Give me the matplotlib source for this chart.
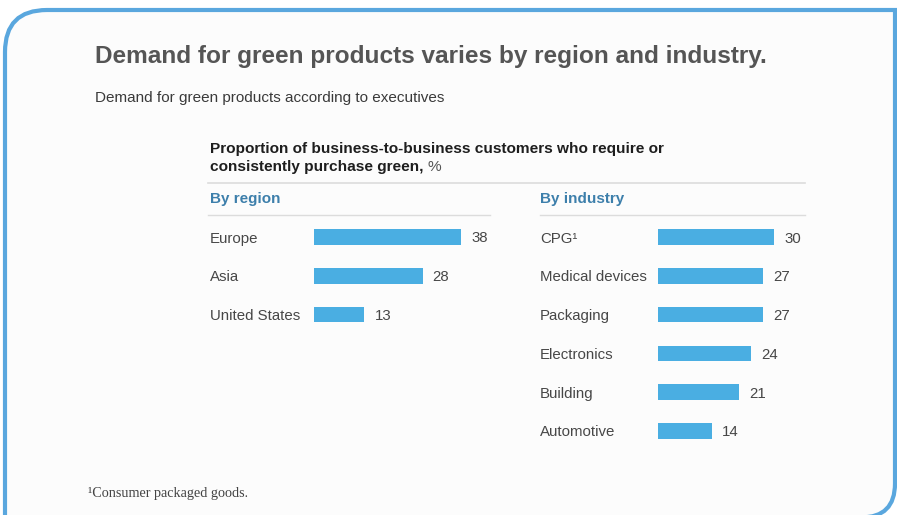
import matplotlib.pyplot as plt
from matplotlib.path import Path
from matplotlib.patches import PathPatch

plt.rcParams['font.family'] = ['Liberation Sans', 'DejaVu Sans']

# Share of B2B customers who require or consistently purchase green, %
regions = ["Europe", "Asia", "United States"]
region_values = [38, 28, 13]

industries = ["CPG\u00b9", "Medical devices", "Packaging", "Electronics", "Building", "Automotive"]
industry_values = [30, 27, 27, 24, 21, 14]

W, H = 897, 515
BAR_COLOR = "#4aaee2"
HEAD_BLUE = "#3d7fab"
TEXT_GRAY = "#474747"
LABEL_SIZE = 10.8
PX_PER_UNIT = 3.88   # bar length scale, pixels per percentage point
ROW_PX = 38.8        # row spacing in pixels

fig = plt.figure(figsize=(W / 100, H / 100), dpi=100)
fig.patch.set_facecolor("white")

# full-figure canvas in pixel coordinates for the frame and text
bg = fig.add_axes([0, 0, 1, 1])
bg.set_xlim(0, W)
bg.set_ylim(H, 0)
bg.axis("off")

# rounded frame: top-left and bottom-right corners rounded
r1, r2 = 42, 34
L, T, R, B = 5, 10, 895, 517.5
verts = [(L, H + 5), (L, T + r1), (L, T), (L + r1, T), (R, T), (R, B - r2),
         (R, B), (R - r2, B), (L - 10, B)]
codes = [Path.MOVETO, Path.LINETO, Path.CURVE3, Path.CURVE3, Path.LINETO,
         Path.LINETO, Path.CURVE3, Path.CURVE3, Path.LINETO]
fill_verts = verts[:-1] + [(L, B), (L, H + 5)]
bg.add_patch(PathPatch(Path(fill_verts, codes[:-1] + [Path.LINETO, Path.CLOSEPOLY]),
                       facecolor="#fcfcfc", edgecolor="none"))
bg.add_patch(PathPatch(Path(verts, codes), facecolor="none",
                       edgecolor="#5aa7de", lw=3, clip_on=False))

# titles
bg.text(95, 56, "Demand for green products varies by region and industry.",
        fontsize=17.6, fontweight="bold", color="#555555", va="center")
bg.text(95, 98, "Demand for green products according to executives",
        fontsize=11, color="#3a3a3a", va="center")
bg.text(210, 149, "Proportion of business-to-business customers who require or",
        fontsize=11.1, fontweight="bold", color="#1e1e1e", va="center")
head2 = bg.text(210, 167, "consistently purchase green,", fontsize=11.1, fontweight="bold",
                color="#1e1e1e", va="center")
bg.annotate("%", xy=(1, 0.5), xycoords=head2, xytext=(3, 0), textcoords="offset points",
            fontsize=11.1, color="#555555", va="center")
bg.plot([208, 805], [183, 183], color="#dcdcdc", lw=1.2)

bg.text(210, 199, "By region", fontsize=11, fontweight="bold", color=HEAD_BLUE, va="center")
bg.text(540, 199, "By industry", fontsize=11, fontweight="bold", color=HEAD_BLUE, va="center")
bg.plot([208, 490], [215, 215], color="#dcdcdc", lw=1.0)
bg.plot([540, 805], [215, 215], color="#dcdcdc", lw=1.0)

bg.text(88, 493, "\u00b9Consumer packaged goods.", fontsize=10.2, family="Liberation Serif",
        color="#444444", va="center")


def bar_panel(names, values, left_px, label_px):
    n = len(names)
    top_px = 237 - ROW_PX / 2
    width_units = 40
    ax = fig.add_axes([left_px / W, 1 - (top_px + n * ROW_PX) / H,
                       width_units * PX_PER_UNIT / W, n * ROW_PX / H])
    ax.set_xlim(0, width_units)
    ax.set_ylim(n - 0.5, -0.5)
    ax.barh(range(n), values, height=15.5 / ROW_PX, color=BAR_COLOR)
    for i, v in enumerate(values):
        ax.text(v + 10 / PX_PER_UNIT, i, str(v), va="center_baseline", ha="left",
                fontsize=LABEL_SIZE, color=TEXT_GRAY, clip_on=False)
    ax.set_yticks(range(n))
    ax.set_yticklabels(names, fontsize=LABEL_SIZE, color=TEXT_GRAY, ha="left",
                       va="center_baseline")
    ax.tick_params(axis="y", length=0, pad=(left_px - label_px) * 0.72)
    ax.set_xticks([])
    for s in ax.spines.values():
        s.set_visible(False)
    ax.patch.set_alpha(0)
    return ax


bar_panel(regions, region_values, 314, 210)
bar_panel(industries, industry_values, 658, 540)

fig.savefig("out.png", dpi=100, facecolor="white")
